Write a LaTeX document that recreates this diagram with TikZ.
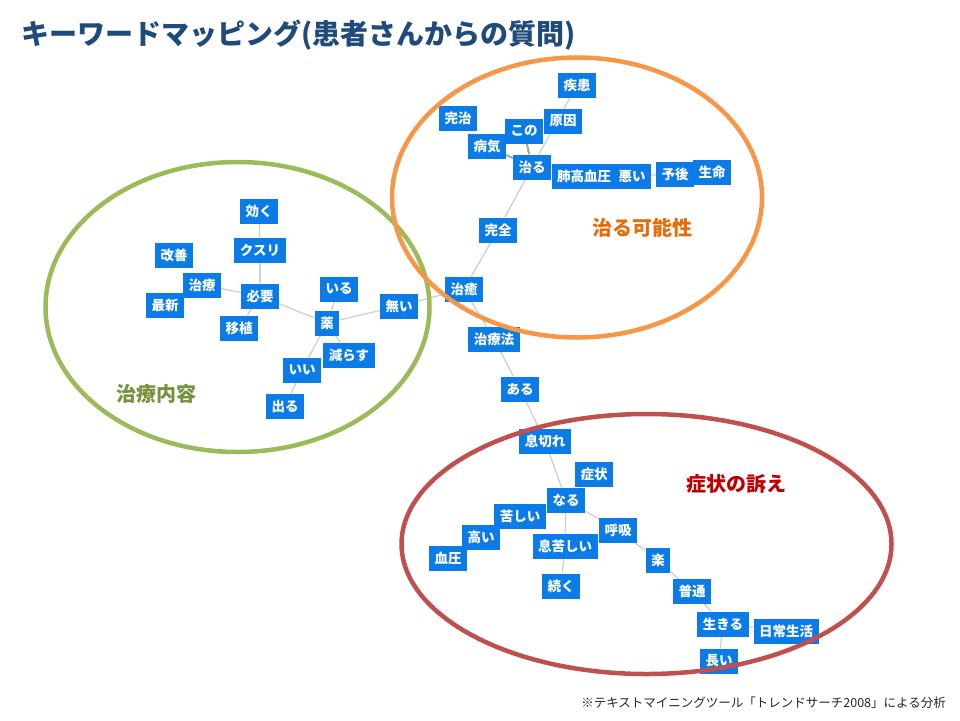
\documentclass[tikz,border=0pt]{standalone}
\usepackage{fontspec}
\setmainfont{Noto Sans CJK JP}
\definecolor{kwblue}{HTML}{0B7BE8}
\definecolor{linkgray}{HTML}{D0D0D0}
\definecolor{titleblue}{HTML}{1F4A7C}
\definecolor{ellorange}{HTML}{F79646}
\definecolor{ellgreen}{HTML}{9BBB59}
\definecolor{ellred}{HTML}{C0504D}
\definecolor{txtorange}{HTML}{E46C0A}
\definecolor{txtgreen}{HTML}{76923C}
\definecolor{txtred}{HTML}{C00000}
\pgfdeclarelayer{paper}
\pgfdeclarelayer{bg}
\pgfdeclarelayer{fg}
\pgfsetlayers{paper,bg,main,fg}
\tikzset{
  kw/.style={fill=kwblue, text=white, font=\bfseries\fontsize{13.5}{13.5}\selectfont,
    inner xsep=5.5pt, inner ysep=0pt, minimum height=25pt, anchor=center},
  link/.style={draw=linkgray, line width=1.3pt},
  linkdark/.style={draw=gray!70, line width=2pt},
  group/.style={line width=4.5pt},
  grouplabel/.style={font=\bfseries\fontsize{20}{20}\selectfont, anchor=center}
}
\begin{document}
\begin{tikzpicture}[x=1pt,y=-1pt]
\useasboundingbox (0,0) rectangle (960,720);
\begin{pgfonlayer}{paper}
\fill[white] (0,0) rectangle (960,720);
\end{pgfonlayer}

% title and footer
\node[anchor=west, text=titleblue, font=\bfseries\fontsize{28}{28}\selectfont, inner sep=0pt] (title) at (21,35) {キーワードマッピング(患者さんからの質問)};
\node[anchor=east, text=black!85, font=\fontsize{12.5}{12.5}\selectfont, inner sep=0pt] (foot) at (946,703) {※テキストマイニングツール「トレンドサーチ2008」による分析};

% upper cluster
\node[kw] (shikkan) at (577,85) {疾患};
\node[kw] (kanji) at (458,118) {完治};
\node[kw] (genin) at (563,121) {原因};
\node[kw] (kono) at (524,131) {この};
\node[kw] (byoki) at (487,146) {病気};
\node[kw] (naoru) at (532,167) {治る};
\node[kw] (haiko) at (584,176) {肺高血圧};
\node[kw] (warui) at (632,176) {悪い};
\node[kw] (yogo) at (675,174) {予後};
\node[kw] (seimei) at (712,172) {生命};
\node[kw] (kanzen) at (498,230) {完全};

% middle chain
\node[kw] (chiyu) at (464,289) {治癒};
\node[kw] (chiryoho) at (494,339) {治療法};
\node[kw] (aru) at (520,389) {ある};
\node[kw] (ikigire) at (545,441) {息切れ};

% left cluster
\node[kw] (kiku) at (259,211) {効く};
\node[kw] (kusuri) at (260,250) {クスリ};
\node[kw] (kaizen) at (174,255) {改善};
\node[kw] (chiryo) at (202,285) {治療};
\node[kw] (saishin) at (165,305) {最新};
\node[kw] (hitsuyo) at (260,296) {必要};
\node[kw] (ishoku) at (239,328) {移植};
\node[kw] (iru) at (339,289) {いる};
\node[kw] (nai) at (399,306) {無い};
\node[kw] (kusuri2) at (327,323) {薬};
\node[kw] (herasu) at (349,355) {減らす};
\node[kw] (ii) at (302,370) {いい};
\node[kw] (deru) at (285,406) {出る};

% lower cluster
\node[kw] (shojo) at (594,474) {症状};
\node[kw] (naru) at (566,500) {なる};
\node[kw] (kurushii) at (520,516) {苦しい};
\node[kw] (takai) at (481,537) {高い};
\node[kw] (ketsuatsu) at (448,558) {血圧};
\node[kw] (ikigurushii) at (565,546) {息苦しい};
\node[kw] (kokyu) at (618,530) {呼吸};
\node[kw] (raku) at (658,560) {楽};
\node[kw] (tsuzuku) at (561,586) {続く};
\node[kw] (futsu) at (692,591) {普通};
\node[kw] (ikiru) at (723,624) {生きる};
\node[kw] (nichijo) at (786,631) {日常生活};
\node[kw] (nagai) at (719,661) {長い};

% group labels
\node[grouplabel, text=txtorange] (lblA) at (642,228) {治る可能性};
\node[grouplabel, text=txtgreen] (lblB) at (156,394) {治療内容};
\node[grouplabel, text=txtred] (lblC) at (736,484) {症状の訴え};

\begin{pgfonlayer}{bg}
  \draw[link] (shikkan) -- (naoru);
  \draw[linkdark] (kono) -- (naoru);
  \draw[linkdark] (byoki) -- (naoru);
  \draw[link] (naoru) -- (haiko);
  \draw[link] (warui) -- (yogo);
  \draw[link] (naoru) -- (kanzen);
  \draw[link] (kanzen) -- (chiyu);
  \draw[link] (chiyu) -- (chiryoho);
  \draw[link] (chiryoho) -- (aru);
  \draw[link] (aru) -- (ikigire);
  \draw[link] (chiyu) -- (nai);
  \draw[link] (kiku) -- (kusuri);
  \draw[link] (kusuri) -- (hitsuyo);
  \draw[link] (chiryo) -- (hitsuyo);
  \draw[link] (ishoku) -- (hitsuyo);
  \draw[link] (hitsuyo) -- (kusuri2);
  \draw[link] (kusuri2) -- (iru);
  \draw[link] (kusuri2) -- (nai);
  \draw[link] (kusuri2) -- (herasu);
  \draw[link] (kusuri2) -- (ii);
  \draw[link] (ii) -- (deru);
  \draw[link] (ikigire) -- (naru);
  \draw[link] (naru) -- (shojo);
  \draw[link] (naru) -- (kurushii);
  \draw[link] (kurushii) -- (takai);
  \draw[link] (takai) -- (ketsuatsu);
  \draw[link] (naru) -- (ikigurushii);
  \draw[link] (ikigurushii) -- (tsuzuku);
  \draw[link] (naru) -- (kokyu);
  \draw[link] (kokyu) -- (raku);
  \draw[link] (raku) -- (futsu);
  \draw[link] (futsu) -- (ikiru);
  \draw[link] (ikiru) -- (nichijo);
  \draw[link] (ikiru) -- (nagai);
\end{pgfonlayer}

\begin{pgfonlayer}{fg}
  \draw[group, ellgreen] (237.5,307) ellipse [x radius=192, y radius=145];
  \draw[group, ellorange] (577,197.5) ellipse [x radius=185, y radius=140];
  \draw[group, ellred] (646.5,544) ellipse [x radius=245, y radius=130];
\end{pgfonlayer}
\end{tikzpicture}
\end{document}
